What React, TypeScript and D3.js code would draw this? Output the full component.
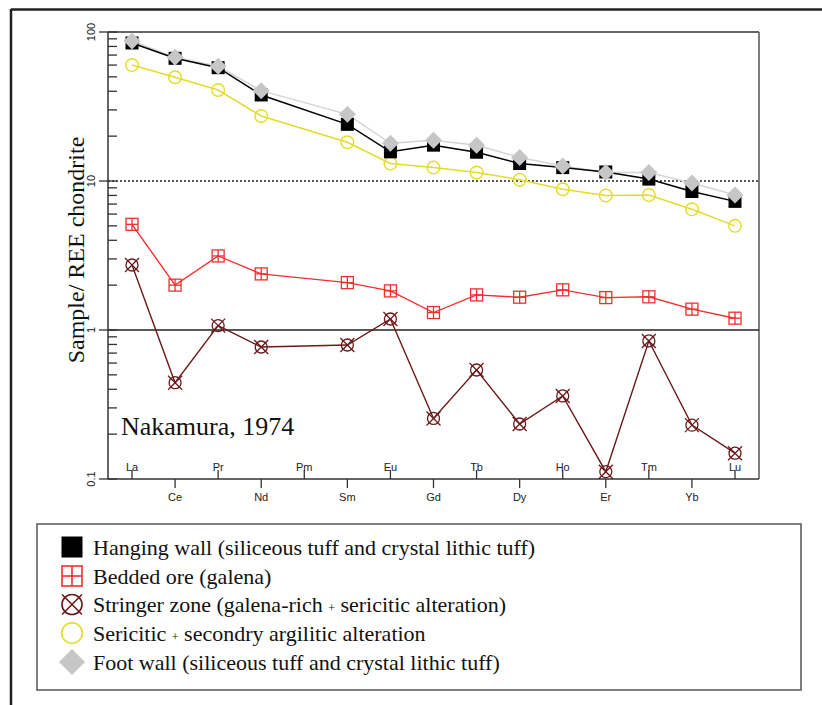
import React from "react";
import * as d3 from "d3";

const ELEMENTS = ["La", "Ce", "Pr", "Nd", "Pm", "Sm", "Eu", "Gd", "Tb", "Dy", "Ho", "Er", "Tm", "Yb", "Lu"];
const hangingWall = [84.4, 66.6, 57.6, 37.8, null, 24.0, 15.7, 17.4, 15.6, 13.1, 12.3, 11.5, 10.3, 8.5, 7.3];
const footWall = [87, 67.6, 58.9, 40.4, null, 28.0, 17.9, 18.8, 17.4, 14.4, 12.6, 11.4, 11.4, 9.7, 8.05];
const sericitic = [60, 49.7, 40.8, 27.3, null, 18.2, 13.1, 12.3, 11.4, 10.2, 8.8, 8.0, 8.05, 6.46, 5.0];
const beddedOre = [5.12, 2.0, 3.14, 2.38, null, 2.08, 1.83, 1.31, 1.72, 1.66, 1.86, 1.65, 1.67, 1.38, 1.2];
const stringer = [2.73, 0.443, 1.07, 0.769, null, 0.793, 1.185, 0.255, 0.539, 0.234, 0.361, 0.112, 0.844, 0.23, 0.149];
const yMajorTicks = [0.1, 1, 10, 100];
const yTickLabels = ["0.1", "1", "10", "100"];
const legendLabels = [
  "Hanging wall (siliceous tuff and crystal lithic tuff)",
  "Bedded ore (galena)",
  "Stringer zone (galena-rich ",
  "Sericitic ",
  "Foot wall (siliceous tuff and crystal lithic tuff)",
];
const legendTails = ["", "", " sericitic alteration)", " secondry argilitic alteration", ""];

const W = 822;
const H = 705;
const PL = 108, PR = 759, PT = 32, PB = 479;

const x = d3.scaleLinear().domain([0, 14]).range([132, 735]);
const y = d3.scaleLog().domain([0.1, 100]).range([PB, PT]);

const C_BLACK = "#000";
const C_GRAY = "#c6c6c6";
const C_GRAYLINE = "#d4d4d4";
const C_YELLOW = "#e3dc2a";
const C_RED = "#f0302e";
const C_DRED = "#6b1a1a";

type Pt = { i: number; v: number };
const pts = (arr: (number | null)[]): Pt[] =>
  arr.map((v, i) => ({ i, v: v as number })).filter((p) => p.v != null);

const lineGen = d3
  .line<Pt>()
  .x((p) => x(p.i))
  .y((p) => y(p.v));

function Square({ cx, cy, s, fill }: any) {
  return <rect x={cx - s / 2} y={cy - s / 2} width={s} height={s} fill={fill} />;
}
function PlusSquare({ cx, cy, s, color, sw = 1.3 }: any) {
  return (
    <g stroke={color} strokeWidth={sw} fill="none">
      <rect x={cx - s / 2} y={cy - s / 2} width={s} height={s} />
      <line x1={cx} x2={cx} y1={cy - s / 2} y2={cy + s / 2} />
      <line x1={cx - s / 2} x2={cx + s / 2} y1={cy} y2={cy} />
    </g>
  );
}
function XCircle({ cx, cy, r, a, color, sw = 1.3 }: any) {
  return (
    <g stroke={color} strokeWidth={sw} fill="none">
      <circle cx={cx} cy={cy} r={r} />
      <line x1={cx - a} y1={cy - a} x2={cx + a} y2={cy + a} />
      <line x1={cx - a} y1={cy + a} x2={cx + a} y2={cy - a} />
    </g>
  );
}
function Circle({ cx, cy, r, color, sw = 1.4 }: any) {
  return <circle cx={cx} cy={cy} r={r} fill="none" stroke={color} strokeWidth={sw} />;
}
function Diamond({ cx, cy, h, fill }: any) {
  return <path d={`M${cx},${cy - h}L${cx + h},${cy}L${cx},${cy + h}L${cx - h},${cy}Z`} fill={fill} />;
}

export default function App() {
  const minorTicks: number[] = [];
  for (const dec of [0.1, 1, 10]) for (let k = 2; k <= 9; k++) minorTicks.push(dec * k);

  const sans = "'Liberation Sans', Arial, sans-serif";
  const serif = "'Liberation Serif', 'Times New Roman', serif";

  const sSt = pts(stringer), sBo = pts(beddedOre), sSe = pts(sericitic), sHw = pts(hangingWall), sFw = pts(footWall);

  const legY = [547, 576, 604.5, 633, 662];
  const legX = 72;
  const legTX = 93;

  return (
    <svg width={W} height={H} style={{ position: "absolute", left: 0, top: 0, background: "#fff" }}>
      <rect x={0} y={0} width={W} height={H} fill="#fff" />
      {/* outer frame */}
      <line x1={11} y1={9.5} x2={W} y2={9.5} stroke="#222" strokeWidth={2.5} />
      <line x1={11} y1={9} x2={11} y2={H} stroke="#222" strokeWidth={2.5} />

      {/* plot box */}
      <line x1={PL} y1={PT} x2={PR} y2={PT} stroke="#333" strokeWidth={1.5} />
      <line x1={PR} y1={PT} x2={PR} y2={PB} stroke="#555" strokeWidth={1.5} />
      <line x1={PL} y1={PB} x2={PR} y2={PB} stroke="#333" strokeWidth={1.5} />
      <line x1={PL} y1={PT} x2={PL} y2={PB} stroke="#333" strokeWidth={1.5} />

      {/* reference lines */}
      <line x1={PL} x2={PR} y1={y(10)} y2={y(10)} stroke="#222" strokeWidth={1.3} strokeDasharray="2,2" />
      <line x1={PL} x2={PR} y1={y(1)} y2={y(1)} stroke="#222" strokeWidth={1.5} />

      {/* y ticks */}
      {minorTicks.map((t) => (
        <line key={t} x1={PL} x2={PL + 9} y1={y(t)} y2={y(t)} stroke="#333" strokeWidth={1.3} />
      ))}
      {yMajorTicks.map((t, k) => (
        <g key={t}>
          <line x1={PL - 9} x2={PL + 9} y1={y(t)} y2={y(t)} stroke="#333" strokeWidth={1.3} />
          <text
            transform={`translate(${PL - 13},${y(t)}) rotate(-90)`}
            textAnchor="middle"
            fontFamily={sans}
            fontSize={11}
            fill="#222"
          >
            {yTickLabels[k]}
          </text>
        </g>
      ))}
      <text
        transform={`translate(84,250) rotate(-90)`}
        textAnchor="middle"
        fontFamily={serif}
        fontSize={24}
        fill="#111"
      >
        Sample/ REE chondrite
      </text>

      {/* x ticks */}
      {ELEMENTS.map((e, i) => {
        const up = i % 2 === 0;
        return (
          <g key={e}>
            <line x1={x(i)} x2={x(i)} y1={PB} y2={up ? PB - 9 : PB + 9} stroke="#333" strokeWidth={1.3} />
            <text
              x={x(i)}
              y={up ? PB - 8 : PB + 22}
              textAnchor="middle"
              fontFamily={sans}
              fontSize={11}
              fill="#222"
            >
              {e}
            </text>
          </g>
        );
      })}

      <text x={121} y={435} fontFamily={serif} fontSize={26} fill="#111">
        Nakamura, 1974
      </text>

      {/* series: stringer */}
      <path d={lineGen(sSt) || ""} fill="none" stroke={C_DRED} strokeWidth={1.4} />
      {sSt.map((p) => (
        <XCircle key={p.i} cx={x(p.i)} cy={y(p.v)} r={6} a={7} color={C_DRED} />
      ))}
      {/* bedded ore */}
      <path d={lineGen(sBo) || ""} fill="none" stroke={C_RED} strokeWidth={1.4} />
      {sBo.map((p) => (
        <PlusSquare key={p.i} cx={x(p.i)} cy={y(p.v)} s={12} color={C_RED} />
      ))}
      {/* sericitic */}
      <path d={lineGen(sSe) || ""} fill="none" stroke={C_YELLOW} strokeWidth={1.5} />
      {sSe.map((p) => (
        <Circle key={p.i} cx={x(p.i)} cy={y(p.v)} r={6.3} color={C_YELLOW} />
      ))}
      {/* foot wall line */}
      <path d={lineGen(sFw) || ""} fill="none" stroke={C_GRAYLINE} strokeWidth={1.5} />
      {/* hanging wall */}
      <path d={lineGen(sHw) || ""} fill="none" stroke={C_BLACK} strokeWidth={1.5} />
      {sHw.map((p) => (
        <Square key={p.i} cx={x(p.i)} cy={y(p.v)} s={13} fill={C_BLACK} />
      ))}
      {/* foot wall markers */}
      {sFw.map((p) => (
        <Diamond key={p.i} cx={x(p.i)} cy={y(p.v)} h={8.5} fill={C_GRAY} />
      ))}

      {/* legend */}
      <rect x={37} y={524} width={764} height={166} fill="none" stroke="#555" strokeWidth={1.5} />
      <Square cx={legX} cy={legY[0]} s={21} fill={C_BLACK} />
      <PlusSquare cx={legX} cy={legY[1]} s={20} color={C_RED} sw={1.6} />
      <XCircle cx={legX} cy={legY[2]} r={10} a={10} color={C_DRED} sw={1.6} />
      <Circle cx={legX} cy={legY[3]} r={10.3} color={C_YELLOW} sw={1.6} />
      <Diamond cx={legX} cy={legY[4]} h={13} fill={C_GRAY} />
      <g fontFamily={serif} fontSize={22} fill="#111" style={{ whiteSpace: "pre" }}>
        {legendLabels.map((lab, k) => (
          <text key={k} x={legTX} y={legY[k] + 7.5} xmlSpace="preserve">
            {lab}
            {legendTails[k] ? <tspan fontSize={12}>+</tspan> : null}
            {legendTails[k]}
          </text>
        ))}
      </g>
    </svg>
  );
}
